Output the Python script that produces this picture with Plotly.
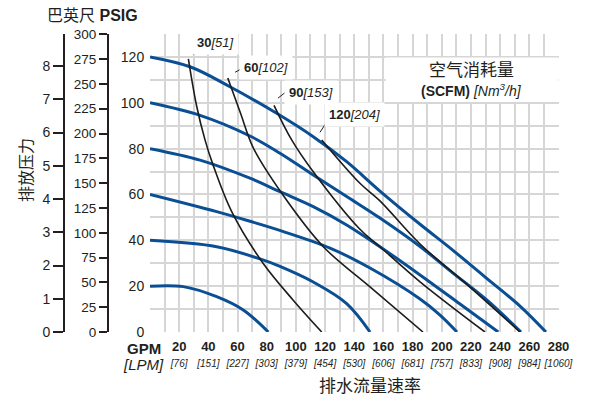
import plotly.graph_objects as go

# Flow axis (GPM) and its metric equivalents (LPM)
gpm_ticks = [20, 40, 60, 80, 100, 120, 140, 160, 180, 200, 220, 240, 260, 280]
lpm_ticks = [76, 151, 227, 303, 379, 454, 530, 606, 681, 757, 833, 908, 984, 1060]

# Discharge pressure curves (psi) – flow (GPM) vs pressure
p20_x = [0, 22.8, 45.7, 63.9, 81.1]
p20_y = [20, 19.8, 15.4, 9.6, 0]
p40_x = [0, 45.7, 75.4, 89.1, 111.9, 134.8, 150.8]
p40_y = [40, 37.2, 31.9, 28.6, 21.8, 12.4, 0]
p60_x = [0, 45.7, 68.5, 90.5, 123.4, 150.8, 185.1, 198.8, 210.4]
p60_y = [60, 52.5, 48.3, 44.0, 36.6, 27.9, 14.4, 7.4, 0]
p80_x = [0, 34.3, 68.5, 89.1, 111.9, 134.8, 157.6, 185.1, 212.5, 238.7]
p80_y = [80, 75.0, 67.1, 61.2, 54.7, 46.7, 37.2, 24.9, 12.2, 0]
p100_x = [0, 34.3, 68.5, 89.1, 111.9, 134.8, 157.6, 185.1, 207.9, 230.8, 254.3]
p100_y = [100, 94.5, 85.5, 78.0, 68.5, 59.1, 49.7, 37.3, 25.6, 14.0, 0]
p120_x = [0, 27.4, 54.8, 86.8, 111.9, 134.8, 157.6, 185.1, 207.9, 230.8, 253.6, 271.4]
p120_y = [120, 115.7, 107.0, 95.4, 85.2, 74.3, 61.5, 47.0, 35.5, 23.4, 11.3, 0]

# Air consumption curves (SCFM)
a30_x = [26.3, 32.0, 37.7, 43.2, 56.0, 77.5, 98.0, 117.7]
a30_y = [119.2, 98.5, 83.8, 72.9, 52.5, 30.0, 14.0, 0]
a60_x = [53.3, 62.0, 70.8, 90.3, 118.8, 150.8, 187.1]
a60_y = [110.8, 95.5, 80.3, 60.5, 37.2, 19.7, 0]
a90_x = [85.0, 97.1, 111.9, 143.9, 157.6, 185.1, 229.6]
a90_y = [98.9, 83.8, 69.9, 44.8, 37.2, 21.9, 0]
a120_x = [117.7, 143.9, 157.6, 185.1, 219.3, 253.6]
a120_y = [83.8, 64.9, 57.2, 38.4, 19.6, 0]

# Air curve labels: SCFM, Nm3/h, label centre, leader segment
air_scfm = [30, 60, 90, 120]
air_nm3h = [51, 102, 153, 204]
label_xy = [(45.2, 126.1), (79.5, 115.6), (110.3, 104.4), (140.5, 95.1)]
leader_xy = [((29.7, 121.0), (33.6, 123.2)),
             ((58.3, 113.3), (62.9, 114.9)),
             ((87.7, 102.0), (92.5, 104.4)),
             ((116.5, 87.1), (122.7, 93.2))]

psi_ticks = [0, 20, 40, 60, 80, 100, 120]
psig_ticks = [0, 25, 50, 75, 100, 125, 150, 175, 200, 225, 250, 275, 300]
bar_ticks = [0, 1, 2, 3, 4, 5, 6, 7, 8]

FONT = "Liberation Sans, Arial, Noto Sans CJK SC, sans-serif"
CJK = "Noto Sans CJK SC, sans-serif"
BLUE = "#0a4f93"
INK = "#231f20"
GRID = "#d6d6d6"
W, H = 594, 396
L_PX, R_PX, T_PX, B_PX = 150, 558.5, 34, 332

fig = go.Figure()

for xs, ys in [(p20_x, p20_y), (p40_x, p40_y), (p60_x, p60_y),
               (p80_x, p80_y), (p100_x, p100_y), (p120_x, p120_y)]:
    fig.add_trace(go.Scatter(x=xs, y=ys, mode="lines",
                             line=dict(color=BLUE, width=3, shape="spline", smoothing=1.0),
                             hoverinfo="skip", showlegend=False))

for xs, ys in [(a30_x, a30_y), (a60_x, a60_y), (a90_x, a90_y), (a120_x, a120_y)]:
    fig.add_trace(go.Scatter(x=xs, y=ys, mode="lines",
                             line=dict(color="#1c1c1c", width=1.6, shape="spline", smoothing=1.0),
                             hoverinfo="skip", showlegend=False))

# carriers for the two outer pressure scales
fig.add_trace(go.Scatter(x=[0], y=[0], yaxis="y2", mode="markers",
                         marker=dict(opacity=0), hoverinfo="skip", showlegend=False))
fig.add_trace(go.Scatter(x=[0], y=[0], yaxis="y3", mode="markers",
                         marker=dict(opacity=0), hoverinfo="skip", showlegend=False))

# x tick labels: GPM in bold, LPM in brackets underneath
x_vals = list(range(0, 281, 10))
x_text = []
for v in x_vals:
    if v in gpm_ticks:
        lpm = lpm_ticks[gpm_ticks.index(v)]
        x_text.append(f"<span style='font-size:13px'><b>{v}</b></span><br>"
                      f"<span style='font-size:10px'><i>[{lpm}]</i></span>")
    else:
        x_text.append("")

y_vals = list(range(0, 131, 10))
y_text = [str(v) if v in psi_ticks else "" for v in y_vals]

# white panel behind the air-consumption legend
fig.add_shape(type="rect", xref="x", yref="y", x0=161.5, x1=281, y0=100.3, y1=119.8,
              fillcolor="white", line=dict(width=0), layer="between")
fig.add_annotation(xref="x", yref="y", x=220.4, y=115.0, text="空气消耗量",
                   showarrow=False, font=dict(family=CJK, size=17, color=INK))
fig.add_annotation(xref="x", yref="y", x=220.4, y=105.6,
                   text="<b>(SCFM)</b> <i>[Nm<sup>3</sup>/h]</i>",
                   showarrow=False, font=dict(family=FONT, size=14, color=INK))

for s, n, (lx, ly), (p0, p1) in zip(air_scfm, air_nm3h, label_xy, leader_xy):
    fig.add_annotation(xref="x", yref="y", x=lx, y=ly,
                       text=f"<b>{s}</b><i>[{n}]</i>", showarrow=False,
                       bgcolor="white", borderpad=4,
                       font=dict(family=FONT, size=13, color=INK))
    fig.add_shape(type="line", xref="x", yref="y", x0=p0[0], y0=p0[1], x1=p1[0], y1=p1[1],
                  line=dict(color=INK, width=1))


def px_x(px):
    return px / W


def px_y(px):
    return (B_PX - px) / (B_PX - T_PX)


def paper_note(x, y, text, family, size, angle=0, xanchor="center"):
    fig.add_annotation(xref="paper", yref="paper", x=px_x(x), y=px_y(y),
                       xanchor=xanchor, yanchor="middle", textangle=angle,
                       text=text, showarrow=False,
                       font=dict(family=family, size=size, color=INK))


paper_note(45, 16, "巴英尺 <b>PSIG</b>", FONT, 16, xanchor="left")
paper_note(25, 170, "排放压力", CJK, 16, angle=-90)
paper_note(370, 384, "排水流量速率", CJK, 17)
paper_note(144, 348, "<b>GPM</b>", FONT, 15)
paper_note(143, 364, "<i>[LPM]</i>", FONT, 15)

fig.update_layout(
    template="none",
    width=W, height=H,
    margin=dict(l=0, r=0, t=T_PX, b=H - B_PX, pad=0, autoexpand=False),
    paper_bgcolor="white", plot_bgcolor="white",
    font=dict(family=FONT, size=12, color=INK),
    xaxis=dict(domain=[L_PX / W, R_PX / W], range=[0, 280], tickmode="array",
               tickvals=x_vals, ticktext=x_text, showgrid=True, gridcolor=GRID,
               gridwidth=2, zeroline=False, showline=False, ticks="outside",
               ticklen=4, tickcolor="rgba(0,0,0,0)", tickangle=0, automargin=False,
               tickfont=dict(family=FONT, size=12, color=INK)),
    yaxis=dict(range=[0, 130], tickmode="array", tickvals=y_vals, ticktext=y_text,
               showgrid=True, gridcolor=GRID, gridwidth=2, zeroline=False,
               showline=False, ticks="outside", ticklen=2, tickcolor="rgba(0,0,0,0)",
               automargin=False, tickfont=dict(family=FONT, size=14, color=INK)),
    yaxis2=dict(overlaying="y", anchor="free", position=108 / W, side="left",
                range=[0, 300.3], tickmode="array", tickvals=psig_ticks,
                showgrid=False, zeroline=False, showline=True, linecolor=INK,
                linewidth=2, ticks="outside", ticklen=8, tickwidth=2, tickcolor=INK,
                automargin=False, tickfont=dict(family=FONT, size=13.5, color=INK)),
    yaxis3=dict(overlaying="y", anchor="free", position=64 / W, side="left",
                range=[0, 130 / 14.5038], tickmode="array", tickvals=bar_ticks,
                showgrid=False, zeroline=False, showline=True, linecolor=INK,
                linewidth=2, ticks="outside", ticklen=10, tickwidth=2, tickcolor=INK,
                automargin=False, tickfont=dict(family=FONT, size=14, color=INK)),
)

fig.write_html("out.html")
